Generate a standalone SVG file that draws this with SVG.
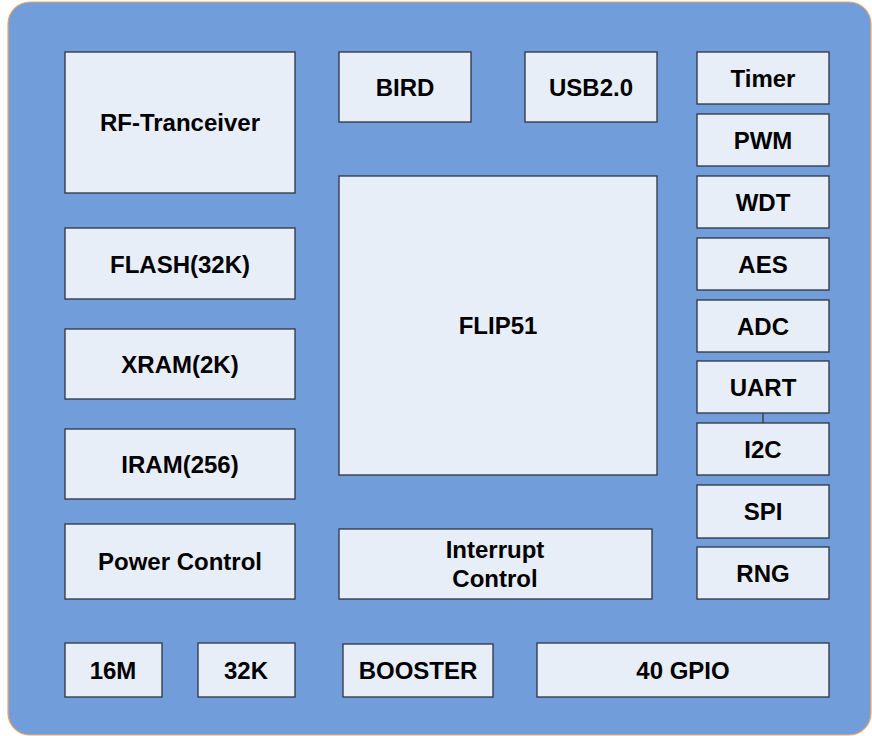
<svg xmlns="http://www.w3.org/2000/svg" width="872" height="736" viewBox="0 0 872 736">
<style>
.b{fill:#e8eef8;stroke:#2f3540;stroke-width:1.3}
.t{font-family:"Liberation Sans",Arial,sans-serif;font-weight:bold;font-size:24px;fill:#000;text-anchor:middle;dominant-baseline:central}
.c{stroke:#2f3540;stroke-width:1.3;fill:none}
</style>
<rect x="8" y="2" width="863" height="733" rx="22" ry="22" fill="#719edb" stroke="#f2a463" stroke-width="1.2"/>
<g id="connectors"><line class="c" x1="763" y1="413" x2="763" y2="423"/></g>
<g id="rf"><rect class="b" x="65" y="52" width="230" height="141"/><text class="t" x="180" y="122">RF-Tranceiver</text></g>
<g id="bird"><rect class="b" x="339" y="52" width="132" height="70"/><text class="t" x="405" y="87">BIRD</text></g>
<g id="usb"><rect class="b" x="525" y="52" width="132" height="70"/><text class="t" x="591" y="87">USB2.0</text></g>
<g id="timer"><rect class="b" x="697" y="52" width="132" height="52"/><text class="t" x="763" y="78">Timer</text></g>
<g id="pwm"><rect class="b" x="697" y="114" width="132" height="52"/><text class="t" x="763" y="140">PWM</text></g>
<g id="wdt"><rect class="b" x="697" y="176" width="132" height="52"/><text class="t" x="763" y="202">WDT</text></g>
<g id="aes"><rect class="b" x="697" y="238" width="132" height="52"/><text class="t" x="763" y="264">AES</text></g>
<g id="adc"><rect class="b" x="697" y="300" width="132" height="52"/><text class="t" x="763" y="326">ADC</text></g>
<g id="uart"><rect class="b" x="697" y="361" width="132" height="52"/><text class="t" x="763" y="387">UART</text></g>
<g id="i2c"><rect class="b" x="697" y="423" width="132" height="52"/><text class="t" x="763" y="449">I2C</text></g>
<g id="spi"><rect class="b" x="697" y="485" width="132" height="53"/><text class="t" x="763" y="511">SPI</text></g>
<g id="rng"><rect class="b" x="697" y="547" width="132" height="52"/><text class="t" x="763" y="573">RNG</text></g>
<g id="flip51"><rect class="b" x="339" y="176" width="318" height="299"/><text class="t" x="498" y="325">FLIP51</text></g>
<g id="flash"><rect class="b" x="65" y="228" width="230" height="71"/><text class="t" x="180" y="264">FLASH(32K)</text></g>
<g id="xram"><rect class="b" x="65" y="329" width="230" height="70"/><text class="t" x="180" y="364">XRAM(2K)</text></g>
<g id="iram"><rect class="b" x="65" y="429" width="230" height="70"/><text class="t" x="180" y="464">IRAM(256)</text></g>
<g id="power"><rect class="b" x="65" y="524" width="230" height="75"/><text class="t" x="180" y="561">Power Control</text></g>
<g id="interrupt"><rect class="b" x="339" y="529" width="313" height="70"/><text class="t" x="495" y="549">Interrupt</text><text class="t" x="495" y="578">Control</text></g>
<g id="m16"><rect class="b" x="65" y="643" width="97" height="54"/><text class="t" x="113" y="670">16M</text></g>
<g id="k32"><rect class="b" x="198" y="643" width="97" height="54"/><text class="t" x="246" y="670">32K</text></g>
<g id="booster"><rect class="b" x="343" y="644" width="150" height="53"/><text class="t" x="418" y="670">BOOSTER</text></g>
<g id="gpio"><rect class="b" x="537" y="643" width="292" height="54"/><text class="t" x="683" y="670">40 GPIO</text></g>
</svg>
